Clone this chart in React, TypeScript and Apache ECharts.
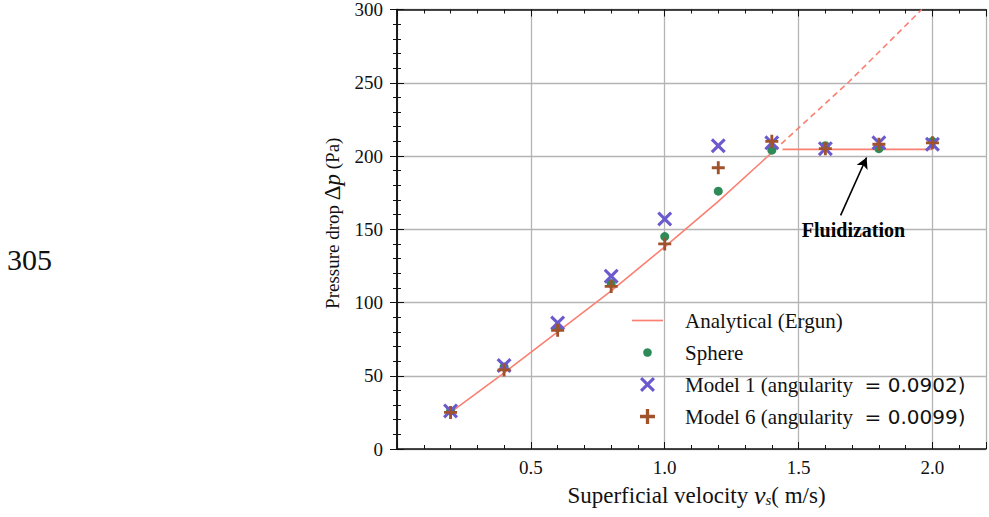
import React, { useEffect, useRef } from "react";
import * as echarts from "echarts";

// ---- data ----
const velocities = [0.2, 0.4, 0.6, 0.8, 1.0, 1.2, 1.4, 1.6, 1.8, 2.0];
const spherePressure = [26, 56, 83, 113, 145, 176, 204, 207, 205, 210];
const model1Pressure = [26, 57, 86, 118, 157, 207, 209, 205, 209, 208];
const model6Pressure = [25, 54, 81, 111, 140, 192, 210, 205, 208, 209];

const ergunV = [0.2, 0.4, 0.6, 0.8, 1.0, 1.2, 1.38];
const ergunP = [25, 52, 80, 108, 138, 169, 199];
const ergunExtV = [1.38, 1.69, 1.96];
const ergunExtP = [199, 251, 300];
const plateauV = [1.44, 2.0];
const plateauP = [204.5, 204.5];

const xTickLabels = ["0.5", "1.0", "1.5", "2.0"];
const yTickLabels = ["0", "50", "100", "150", "200", "250", "300"];

const arrowTail = [1.657, 159.5];
const arrowHead = [1.754, 199];
const annotationPos = [1.705, 149.3];
const annotationText = "Fluidization";

const SERIF = "Liberation Serif";
const SANS = "DejaVu Sans";

const X_SYMBOL =
  "path://M0,1.45 L1.45,0 L5,3.55 L8.55,0 L10,1.45 L6.45,5 L10,8.55 L8.55,10 L5,6.45 L1.45,10 L0,8.55 L3.55,5 Z";
const PLUS_SYMBOL =
  "path://M3.9,0 H6.1 V3.9 H10 V6.1 H6.1 V10 H3.9 V6.1 H0 V3.9 H3.9 Z";
const DOT_LEGEND = "path://M0,0 M15,15 M7.5,3.2 A4.3,4.3 0 1 1 7.49,3.2 Z";
const LINE_LEGEND = "path://M0,0 H31 V1.7 H0 Z";

const zip = (xs: number[], ys: number[]) => xs.map((x, i) => [x, ys[i]]);

export default function App() {
  const ref = useRef<HTMLDivElement | null>(null);

  useEffect(() => {
    if (!ref.current) return;
    const chart = echarts.init(ref.current, null, { renderer: "svg" });

    const axisColor = "#111";
    const gridColor = "#b4b4b4";
    const commonX = { type: "value", min: 0, max: 2.2, gridIndex: 0 } as any;
    const commonY = { type: "value", min: 0, max: 300, interval: 50, gridIndex: 0 } as any;

    const option: any = {
      animation: false,
      backgroundColor: "#fff",
      grid: { left: 397, right: 2, top: 9, bottom: 68, containLabel: false },
      xAxis: [
        {
          ...commonX,
          position: "bottom",
          interval: 0.5,
          name: "{a|Superficial velocity }{v|v}{s|s}{a|( m/s)}",
          nameLocation: "middle",
          nameGap: 33,
          nameTextStyle: {
            padding: [0, 0, 0, 10],
            rich: {
              a: { fontFamily: SERIF, fontSize: 23, color: "#111" },
              v: { fontFamily: SERIF, fontSize: 26, fontStyle: "italic", color: "#111" },
              s: {
                fontFamily: SERIF,
                fontSize: 15,
                fontStyle: "italic",
                color: "#111",
                padding: [10, 0, 0, 0],
              },
            },
          },
          axisLine: { show: true, lineStyle: { color: axisColor, width: 1.5 } },
          axisTick: { show: true, inside: true, length: 7, lineStyle: { color: axisColor } },
          axisLabel: {
            margin: 9,
            fontFamily: SERIF,
            fontSize: 19,
            color: "#111",
            formatter: (v: number) => {
              const s = v.toFixed(1);
              return xTickLabels.includes(s) ? s : "";
            },
          },
          splitLine: { show: true, lineStyle: { color: gridColor, width: 1.3 } },
        },
        {
          ...commonX,
          position: "bottom",
          interval: 0.1,
          axisLine: { show: false },
          axisTick: { show: true, inside: true, length: 4, lineStyle: { color: axisColor } },
          axisLabel: { show: false },
          splitLine: { show: false },
        },
        {
          ...commonX,
          position: "top",
          interval: 0.5,
          axisLine: { show: true, lineStyle: { color: axisColor, width: 1.5 } },
          axisTick: { show: true, inside: true, length: 7, lineStyle: { color: axisColor } },
          axisLabel: { show: false },
          splitLine: { show: false },
        },
        {
          ...commonX,
          position: "top",
          interval: 0.1,
          axisLine: { show: false },
          axisTick: { show: true, inside: true, length: 4, lineStyle: { color: axisColor } },
          axisLabel: { show: false },
          splitLine: { show: false },
        },
      ],
      yAxis: [
        {
          ...commonY,
          position: "left",
          name: "{a|Pressure drop }{d|Δ}{p|p}{a| (Pa)}",
          nameLocation: "middle",
          nameGap: 48,
          nameRotate: 90,
          nameTextStyle: {
            padding: [0, 0, 0, 12],
            rich: {
              a: { fontFamily: SERIF, fontSize: 19, color: "#111" },
              d: { fontFamily: SERIF, fontSize: 23, color: "#111" },
              p: { fontFamily: SERIF, fontSize: 23, fontStyle: "italic", color: "#111" },
            },
          },
          axisLine: { show: true, lineStyle: { color: axisColor, width: 1.5 } },
          axisTick: { show: true, inside: true, length: 7, lineStyle: { color: axisColor } },
          minorTick: { show: true, splitNumber: 5, length: 4, lineStyle: { color: axisColor } },
          axisLabel: {
            margin: 14,
            fontFamily: SERIF,
            fontSize: 19,
            color: "#111",
            formatter: (v: number) => {
              const s = String(Math.round(v));
              return yTickLabels.includes(s) ? s : "";
            },
          },
          splitLine: { show: true, lineStyle: { color: gridColor, width: 1.3 } },
        },
        {
          ...commonY,
          position: "right",
          axisLine: { show: true, lineStyle: { color: axisColor, width: 1.5 } },
          axisTick: { show: true, inside: true, length: 7, lineStyle: { color: axisColor } },
          minorTick: { show: true, splitNumber: 5, length: 4, lineStyle: { color: axisColor } },
          axisLabel: { show: false },
          splitLine: { show: false },
        },
      ],
      legend: {
        orient: "vertical",
        left: 627,
        top: 305,
        itemWidth: 31,
        itemHeight: 15,
        itemGap: 11,
        data: [
          { name: "Analytical (Ergun)", icon: LINE_LEGEND },
          { name: "Sphere", icon: DOT_LEGEND },
          { name: "Model 1" },
          { name: "Model 6" },
        ],
        formatter: (name: string) => {
          if (name === "Model 1") return "{a|Model 1 (angularity }{b| = 0.0902)}";
          if (name === "Model 6") return "{a|Model 6 (angularity }{b| = 0.0099)}";
          return "{a|" + name + "}";
        },
        textStyle: {
          padding: [0, 0, 0, 17],
          rich: {
            a: { fontFamily: SERIF, fontSize: 21, color: "#111", lineHeight: 24 },
            b: { fontFamily: SANS, fontSize: 20, color: "#111", lineHeight: 24 },
          },
        },
      },
      graphic: [
        {
          type: "text",
          left: 7,
          top: 244,
          style: { text: "305", fontFamily: SERIF, fontSize: 30, fill: "#111" },
        },
      ],
      series: [
        {
          name: "Analytical (Ergun)",
          type: "line",
          data: zip(ergunV, ergunP),
          symbol: "none",
          lineStyle: { color: "#fa8072", width: 1.6 },
          itemStyle: { color: "#fa8072" },
          z: 2,
        },
        {
          name: "ergun-extrapolated",
          type: "line",
          data: zip(ergunExtV, ergunExtP),
          symbol: "none",
          lineStyle: { color: "#fa8072", width: 1.6, type: [6, 4] },
          itemStyle: { color: "#fa8072" },
          z: 2,
        },
        {
          name: "plateau",
          type: "line",
          data: zip(plateauV, plateauP),
          symbol: "none",
          lineStyle: { color: "#fa8072", width: 1.6 },
          itemStyle: { color: "#fa8072" },
          z: 2,
          markLine: {
            silent: true,
            symbol: ["none", "arrow"],
            symbolSize: [9, 11],
            label: { show: false },
            lineStyle: { color: "#000", width: 1.6, type: "solid" },
            data: [[{ coord: arrowTail }, { coord: arrowHead }]],
          },
          markPoint: {
            silent: true,
            symbol: "rect",
            symbolSize: 1,
            itemStyle: { color: "rgba(0,0,0,0)" },
            label: {
              show: true,
              position: "inside",
              formatter: annotationText,
              fontFamily: SERIF,
              fontWeight: "bold",
              fontSize: 20,
              color: "#000",
            },
            data: [{ coord: annotationPos }],
          },
        },
        {
          name: "Sphere",
          type: "scatter",
          data: zip(velocities, spherePressure),
          symbol: "circle",
          symbolSize: 9,
          itemStyle: { color: "#2e8b57", opacity: 1 },
          z: 3,
        },
        {
          name: "Model 1",
          type: "scatter",
          data: zip(velocities, model1Pressure),
          symbol: X_SYMBOL,
          symbolSize: 15,
          itemStyle: { color: "#6a5acd", opacity: 1 },
          z: 4,
        },
        {
          name: "Model 6",
          type: "scatter",
          data: zip(velocities, model6Pressure),
          symbol: PLUS_SYMBOL,
          symbolSize: 13,
          itemStyle: { color: "#a0522d", opacity: 1 },
          z: 5,
        },
      ],
    };

    chart.setOption(option);
    return () => {
      chart.dispose();
    };
  }, []);

  return (
    <div
      ref={ref}
      style={{ position: "absolute", left: 0, top: 0, width: 989, height: 517, background: "#fff" }}
    />
  );
}
